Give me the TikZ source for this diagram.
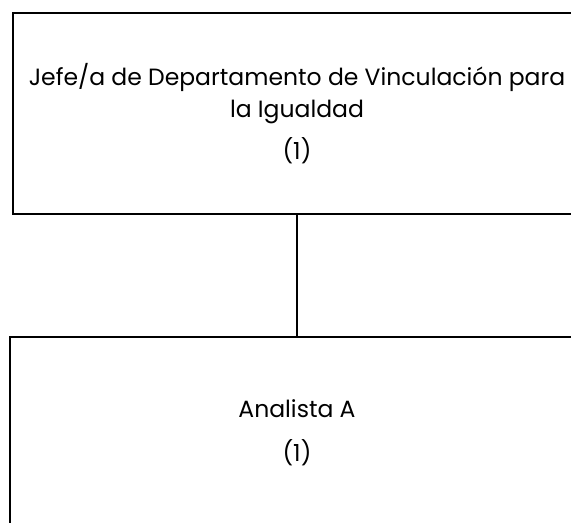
\documentclass[tikz,border=0pt]{standalone}
\usepackage{fontspec}
\setmainfont{Poppins}
\begin{document}
\begin{tikzpicture}[x=1bp,y=-1bp,
  orgbox/.style={draw=black, line width=2.2bp, rectangle, align=center, inner sep=0pt,
    font=\fontsize{23.5bp}{32bp}\selectfont},
  link/.style={draw=black, line width=2.2bp}]
\useasboundingbox (0,0) rectangle (571,523);
\clip (0,0) rectangle (571,523);
\node[orgbox, minimum width=568bp, minimum height=201bp] (top) at (297,113.5)
  {Jefe/a de Departamento de Vinculación para\\ la Igualdad\\[10bp] (1)};
\node[orgbox, minimum width=574bp, minimum height=192bp] (bot) at (297,433)
  {Analista A\\[12bp] (1)};
\draw[link] (top.south) -- (bot.north);
\end{tikzpicture}
\end{document}
